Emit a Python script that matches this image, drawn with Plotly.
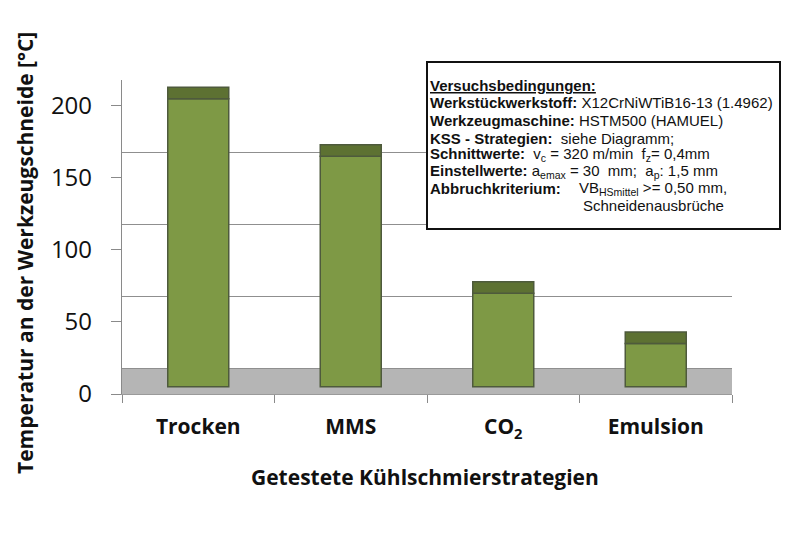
import plotly.graph_objects as go

categories = ["Trocken", "MMS", "CO<sub>2</sub>", "Emulsion"]
temp_mean = [205, 165, 70, 35]      # light green part (top)
temp_max = [213, 173, 78, 43]       # dark green cap (top)
bar_base = 5                         # 3D floor offset of bar front face
y_ticks = [0, 50, 100, 150, 200]
floor_depth = 18                     # depth offset of the back wall

box_lines = [
    "<b><u>Versuchsbedingungen:</u></b>",
    "<b>Werkstückwerkstoff:</b> X12CrNiWTiB16-13 (1.4962)",
    "<b>Werkzeugmaschine:</b> HSTM500 (HAMUEL)",
    "<b>KSS - Strategien:</b>&nbsp; siehe Diagramm;",
    "<b>Schnittwerte:</b>&nbsp; v<sub>c</sub> = 320 m/min&nbsp; f<sub>z</sub>= 0,4mm",
    "<b>Einstellwerte:</b> a<sub>emax</sub> = 30&nbsp; mm;&nbsp; a<sub>p</sub>: 1,5 mm",
    "<b>Abbruchkriterium:</b>",
]
box_lines_right = [
    "VB<sub>HSmittel</sub> >= 0,50 mm,",
    "Schneidenausbrüche",
]

OFF = 8  # page body margin
W, H = 800, 533
L, T = 122 - OFF, 80 - OFF
R, B = W - (732 - OFF), H - (394 - OFF)
pw, ph = W - L - R, H - T - B

def px(x):
    return (x - OFF - L) / pw

def py(y):
    return (H - B - (y - OFF)) / ph

light = "#7E9945"
dark = "#5D7132"
edge = "#4E5A3C"

fig = go.Figure()
fig.add_trace(go.Bar(
    x=categories, y=[v - bar_base for v in temp_mean], base=bar_base,
    marker=dict(color=light, line=dict(color=edge, width=1.5)),
    width=0.4, showlegend=False, hoverinfo="skip"))
fig.add_trace(go.Bar(
    x=categories, y=[m - v for m, v in zip(temp_max, temp_mean)], base=temp_mean,
    marker=dict(color=dark, line=dict(color=edge, width=1.5)),
    width=0.4, showlegend=False, hoverinfo="skip"))
# invisible trace to anchor the back-wall grid axis
fig.add_trace(go.Scatter(x=categories[:1], y=[0], yaxis="y2", mode="markers",
                         marker=dict(opacity=0), showlegend=False, hoverinfo="skip"))

fig.update_layout(
    width=W, height=H,
    margin=dict(l=L, r=R, t=T, b=B),
    paper_bgcolor="white", plot_bgcolor="white",
    barmode="overlay",
    xaxis=dict(type="category", range=[-0.5, 3.5], tickson="boundaries",
               ticks="outside", ticklen=8, tickcolor="#8a8a8a",
               showline=True, linecolor="#9a9a9a", linewidth=1,
               showgrid=False, zeroline=False,
               tickfont=dict(family="Open Sans", size=21, color="#111", weight="bold"),
               ticklabelstandoff=14),
    yaxis=dict(range=[0, max(y_ticks) + floor_depth],
               tickvals=y_ticks, ticks="outside", ticklen=10, tickcolor="#8a8a8a",
               showline=True, linecolor="#8a8a8a", linewidth=1.3,
               showgrid=False, zeroline=False,
               tickfont=dict(family="Open Sans", size=24, color="#111"),
               ticklabelstandoff=14),
    yaxis2=dict(overlaying="y", side="right", range=[-floor_depth, max(y_ticks)], tickvals=y_ticks,
                showgrid=True, gridcolor="#8f8f8f", gridwidth=1.3,
                showticklabels=False, ticks="", showline=False, zeroline=False),
)

# floor
fig.add_shape(type="rect", xref="paper", yref="y", x0=0, x1=1, y0=0, y1=floor_depth,
              fillcolor="#B5B5B5", line=dict(width=0), layer="below")

# info box
fig.add_shape(type="rect", xref="paper", yref="paper",
              x0=px(427), x1=px(780), y0=py(229), y1=py(62),
              fillcolor="white", line=dict(color="#111", width=2), layer="above")

line_y = [85, 102.5, 120.5, 138, 154.5, 171, 188, 205.5]
for i, txt in enumerate(box_lines):
    fig.add_annotation(text=txt, xref="paper", yref="paper", x=px(428), y=py(line_y[i]),
                       xanchor="left", yanchor="middle", showarrow=False,
                       font=dict(family="Liberation Sans", size=15, color="#111"))
for j, txt in enumerate(box_lines_right):
    fig.add_annotation(text=txt, xref="paper", yref="paper", x=px(577 + 4 * j), y=py(line_y[6 + j]),
                       xanchor="left", yanchor="middle", showarrow=False,
                       font=dict(family="Liberation Sans", size=15, color="#111"))

# axis titles
fig.add_annotation(text="<b>Temperatur an der Werkzeugschneide [°C]</b>", xref="paper", yref="paper",
                   x=px(25), y=py(253), textangle=-90, xanchor="center", yanchor="middle",
                   showarrow=False, font=dict(family="Open Sans", size=21, color="#111"))
fig.add_annotation(text="<b>Getestete Kühlschmierstrategien</b>", xref="paper", yref="paper",
                   x=px(425), y=py(477), xanchor="center", yanchor="middle",
                   showarrow=False, font=dict(family="Open Sans", size=21, color="#111"))

fig.write_html("out.html")
